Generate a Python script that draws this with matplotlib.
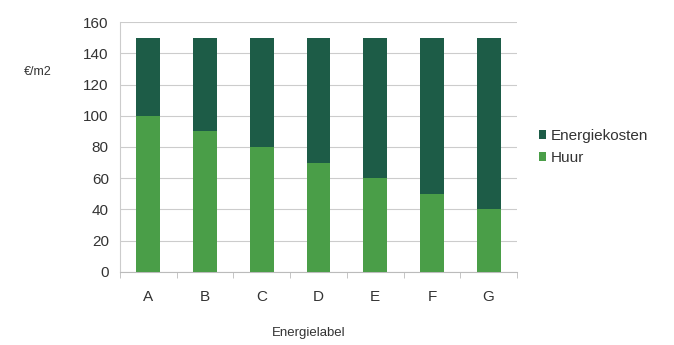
import matplotlib.pyplot as plt
import numpy as np

labels = ['A', 'B', 'C', 'D', 'E', 'F', 'G']
huur = [100, 90, 80, 70, 60, 50, 40]
energiekosten = [50, 60, 70, 80, 90, 100, 110]

dark = '#1d5c47'
light = '#4a9e48'

plt.rcParams['font.family'] = ['Liberation Sans', 'DejaVu Sans']

fig = plt.figure(figsize=(6.74, 3.45), dpi=100)
ax = fig.add_axes([0.178, 0.212, 0.589, 0.724])

x = np.arange(len(labels))
ax.bar(x, huur, width=0.42, color=light, label='Huur', zorder=3)
ax.bar(x, energiekosten, width=0.42, bottom=huur, color=dark, label='Energiekosten', zorder=3)

ax.set_xlim(-0.5, len(labels) - 0.5)
ax.set_ylim(0, 160)
ax.set_yticks(range(0, 161, 20))
ax.set_xticks(x)
ax.set_xticklabels(labels)
ax.set_xticks(np.arange(-0.5, len(labels), 1), minor=True)
ax.tick_params(axis='x', which='major', length=0, pad=13, labelsize=11, colors='#333333')
ax.tick_params(axis='x', which='minor', length=4, color='#bbbbbb')
ax.tick_params(axis='y', length=0, pad=8, labelsize=11, colors='#333333')
ax.yaxis.grid(True, color='#cccccc', linewidth=0.8, zorder=0)

for s in ['top', 'right']:
    ax.spines[s].set_visible(False)
ax.spines['left'].set_color('#cccccc')
ax.spines['bottom'].set_color('#bbbbbb')

ax.set_xlabel('Energielabel', fontsize=9.5, color='#333333')
ax.xaxis.set_label_coords(0.475, -0.22)
fig.text(0.035, 0.79, '€/m2', fontsize=9, color='#333333', va='center')

handles, lbls = ax.get_legend_handles_labels()
ax.legend(handles[::-1], lbls[::-1], loc='center left', bbox_to_anchor=(1.02, 0.5),
          frameon=False, fontsize=11, handlelength=0.5, handleheight=0.5,
          handletextpad=0.3, labelspacing=0.5, labelcolor='#333333')

fig.savefig('out.png', dpi=100)
